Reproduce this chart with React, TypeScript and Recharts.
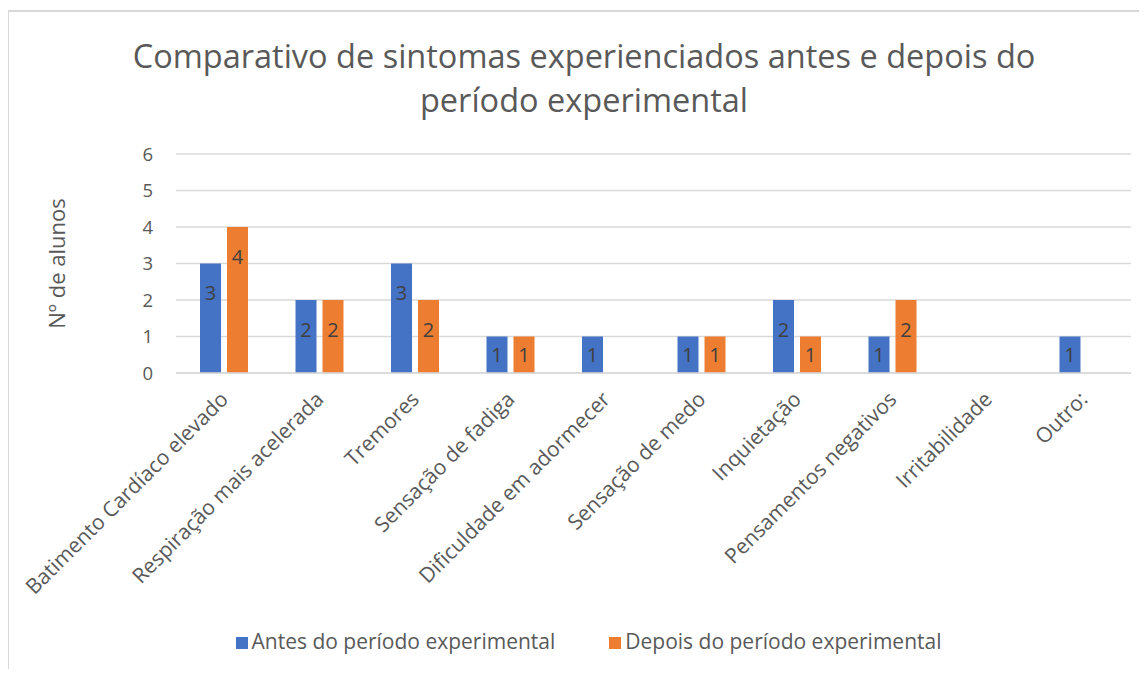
import React from "react";
import { BarChart, Bar, XAxis, YAxis, CartesianGrid, Legend, LabelList } from "recharts";

const categories = [
  "Batimento Cardíaco elevado",
  "Respiração mais acelerada",
  "Tremores",
  "Sensação de fadiga",
  "Dificuldade em adormecer",
  "Sensação de medo",
  "Inquietação",
  "Pensamentos negativos",
  "Irritabilidade",
  "Outro:",
];
const antes: (number | null)[] = [3, 2, 3, 1, 1, 1, 2, 1, null, 1];
const depois: (number | null)[] = [4, 2, 2, 1, null, 1, 1, 2, null, null];
const yTicks = [0, 1, 2, 3, 4, 5, 6];

const data = categories.map((name, i) => ({ name, antes: antes[i], depois: depois[i] }));

const FONT = "'Open Sans', sans-serif";
const GREY = "#595959";

function XTick({ x, y, payload }: any) {
  return (
    <g transform={`translate(${x},${y + 14})`}>
      <text
        transform="rotate(-45)"
        textAnchor="end"
        fill={GREY}
        fontSize={21}
        fontFamily={FONT}
        dominantBaseline="central"
      >
        {payload.value}
      </text>
    </g>
  );
}

function BarLabel({ x, y, width, height, value }: any) {
  if (value == null) return null;
  const dy = Math.min(29, height / 2);
  return (
    <text
      x={x + width / 2}
      y={y + dy}
      textAnchor="middle"
      dominantBaseline="central"
      fill="#404040"
      fontSize={20}
      fontFamily={FONT}
    >
      {value}
    </text>
  );
}

export default function App() {
  return (
    <div style={{ position: "relative", width: 1147, height: 677, margin: -8, background: "#fff", overflow: "hidden" }}>
      <div
        style={{
          position: "absolute",
          left: 7,
          top: 10,
          width: 1200,
          height: 700,
          borderLeft: "2px solid #d9d9d9",
          borderTop: "2px solid #d9d9d9",
        }}
      />
      <div
        style={{
          position: "absolute",
          left: 0,
          top: 34,
          width: 1168,
          textAlign: "center",
          fontFamily: FONT,
          fontSize: 32.5,
          lineHeight: "44px",
          color: GREY,
        }}
      >
        Comparativo de sintomas experienciados antes e depois do
        <br />
        período experimental
      </div>
      <BarChart
        width={1147}
        height={677}
        data={data}
        margin={{ top: 154, right: 16, left: 56, bottom: 18 }}
        barSize={21}
        barGap={6}
      >
        <CartesianGrid vertical={false} stroke="#d9d9d9" strokeWidth={1.5} />
        <XAxis
          dataKey="name"
          interval={0}
          height={254}
          tick={<XTick />}
          tickLine={false}
          axisLine={{ stroke: "#d9d9d9", strokeWidth: 1.5 }}
        />
        <YAxis
          width={120}
          domain={[0, 6]}
          ticks={yTicks}
          tickLine={false}
          axisLine={false}
          tickMargin={17}
          tick={{ fill: GREY, fontSize: 18.5, fontFamily: FONT }}
          label={{
            value: "Nº de alunos",
            angle: -90,
            position: "insideLeft",
            offset: 1,
            style: { textAnchor: "middle", fill: GREY, fontSize: 22, fontFamily: FONT },
          }}
        />
        <Legend
          verticalAlign="bottom"
          height={32}
          iconType="square"
          iconSize={12}
          wrapperStyle={{ fontFamily: FONT, fontSize: 21, color: GREY, paddingLeft: 22 }}
          formatter={(v: string) => <span style={{ color: GREY, marginRight: 44 }}>{v}</span>}
        />
        <Bar dataKey="antes" name="Antes do período experimental" fill="#4472c4" isAnimationActive={false}>
          <LabelList dataKey="antes" content={<BarLabel />} />
        </Bar>
        <Bar dataKey="depois" name="Depois do período experimental" fill="#ed7d31" isAnimationActive={false}>
          <LabelList dataKey="depois" content={<BarLabel />} />
        </Bar>
      </BarChart>
    </div>
  );
}
